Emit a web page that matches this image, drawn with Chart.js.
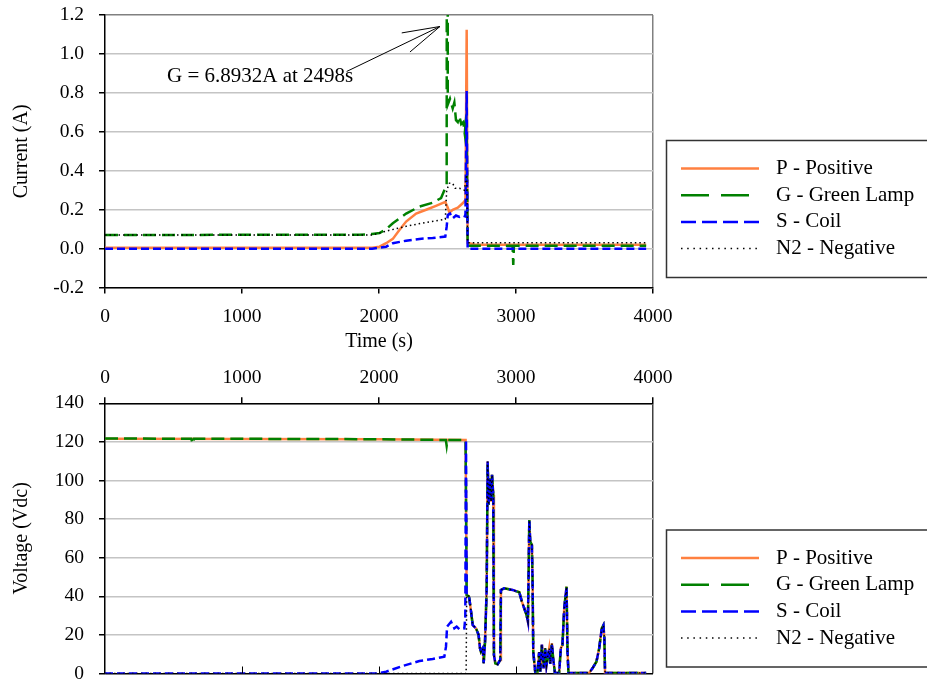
<!DOCTYPE html>
<html>
<head>
<meta charset="utf-8">
<title>Current and Voltage vs Time</title>
<script src="https://cdn.jsdelivr.net/npm/chart.js@4.4.1/dist/chart.umd.min.js"></script>
<style>
  body { margin: 0; background: #fff; }
  canvas { display: block; }
</style>
</head>
<body>
<canvas id="current-chart" width="927" height="360"></canvas>
<canvas id="voltage-chart" width="927" height="325"></canvas>
<script>
// series names and tick values
const seriesNames = ['P - Positive', 'G - Green Lamp', 'S - Coil', 'N2 - Negative'];
const timeTicks = [0, 1000, 2000, 3000, 4000];
const currentTicks = [-0.2, 0, 0.2, 0.4, 0.6, 0.8, 1.0, 1.2];
const voltageTicks = [0, 20, 40, 60, 80, 100, 120, 140];
const annotationText = 'G = 6.8932A at 2498s';

// current (A)
const pCurrentTime = [0, 1950, 2004, 2052, 2101, 2149, 2198, 2271, 2344, 2416, 2484, 2502, 2514, 2538, 2575, 2611, 2631, 2640, 2647, 2700, 3950];
const pCurrent     = [0.005, 0.005, 0.01, 0.028, 0.05, 0.096, 0.139, 0.18, 0.2, 0.22, 0.24, 0.21, 0.185, 0.2, 0.21, 0.233, 0.25, 1.124, 0.03, 0.02, 0.02];

const gCurrentTime = [0, 1858, 1950, 2004, 2052, 2101, 2198, 2295, 2392, 2453, 2477, 2494, 2498, 2502, 2518, 2538, 2550, 2562, 2575, 2587, 2600, 2615, 2626, 2632, 2640, 2647, 2975, 2980, 2985, 3950];
const gCurrent     = [0.07, 0.072, 0.075, 0.08, 0.1, 0.13, 0.18, 0.216, 0.236, 0.26, 0.3, 0.33, 6.8932, 0.74, 0.77, 0.72, 0.75, 0.66, 0.65, 0.68, 0.64, 0.65, 0.59, 0.64, 0.6, 0.015, 0.015, -0.084, 0.015, 0.015];

const sCurrentTime = [0, 1950, 2052, 2101, 2198, 2295, 2392, 2484, 2494, 2502, 2518, 2538, 2562, 2587, 2611, 2631, 2640, 2647, 3950];
const sCurrent     = [0, 0, 0.01, 0.028, 0.041, 0.05, 0.055, 0.062, 0.113, 0.173, 0.18, 0.156, 0.17, 0.163, 0.17, 0.165, 0.81, 0, 0];

const nCurrentTime = [0, 1950, 2052, 2198, 2344, 2484, 2494, 2514, 2538, 2556, 2587, 2623, 2640, 2647, 3950];
const nCurrent     = [0.07, 0.07, 0.09, 0.115, 0.135, 0.151, 0.3, 0.336, 0.335, 0.31, 0.31, 0.3, 0.38, 0.03, 0.03];

// voltage (Vdc) before the drop
const pVoltageTime = [0, 1000, 2000, 2632];
const pVoltage     = [121.6, 121.5, 121.4, 121];
const gVoltageTime = [0, 630, 640, 650, 1000, 2000, 2488, 2494, 2500, 2632];
const gVoltage     = [121.8, 121.6, 119, 121.6, 121.6, 121.4, 121, 118, 121, 121];
const sVoltageTime = [0, 1980, 2052, 2174, 2295, 2392, 2477, 2489, 2497, 2526, 2550, 2567, 2587, 2623, 2630, 2635];
const sVoltage     = [0, 0, 0.95, 3.9, 6.5, 7.5, 8.7, 13.9, 24.3, 26.8, 23.4, 24.3, 22.9, 23.4, 29.4, 121];
const nVoltageTime = [0, 2636];
const nVoltage     = [0, 0];

// voltage after the drop, shared by all four leads
const tailTime    = [2640, 2655, 2659, 2672, 2684, 2708, 2727, 2737, 2744, 2757, 2764, 2774, 2786, 2793, 2800, 2805, 2812, 2818, 2825, 2834, 2839, 2849, 2866, 2885, 2890, 2914, 2975, 3024, 3043, 3060, 3077, 3087, 3092, 3097, 3104, 3116, 3121, 3126, 3140, 3157, 3169, 3177, 3189, 3201, 3213, 3222, 3230, 3242, 3250, 3262, 3271, 3284, 3315, 3327, 3339, 3352, 3369, 3376, 3383, 3534, 3558, 3587, 3607, 3626, 3638, 3645, 3650, 3950];
const tailVoltage = [40.7, 40, 39, 32, 25.1, 23.4, 20, 13.1, 11.3, 13, 5.3, 16.5, 44, 109.8, 87.3, 95, 101.1, 89, 102.9, 92.5, 9.6, 5.3, 4.8, 7, 43.3, 44.1, 43.3, 42.1, 37.2, 33.8, 30.3, 26.9, 51, 79.5, 68.3, 66.6, 47.6, 11.3, 1, 1, 11, 1, 15, 2.7, 13, 4, 8, 13, 5, 15.6, 8, 0.3, 0.3, 13, 14.8, 33.8, 45, 11.3, 0.3, 0.3, 2.7, 6.1, 13, 23.4, 25, 18.2, 0.3, 0.3];

// 样式
const seriesStyles = [
    { color: '#ff8040', dash: [],        legendDash: [],         width: 2.5 },
    { color: '#008000', dash: [13, 6],   legendDash: [28, 12],   width: 2.5 },
    { color: '#0000ff', dash: [8, 4],    legendDash: [15, 6],    width: 2.5 },
    { color: '#000000', dash: [1.5, 3],  legendDash: [1.5, 4.7], width: 1.5 }
];

Chart.defaults.font.family = '"Liberation Serif", "Times New Roman", serif';
Chart.defaults.font.size = 19.5;
Chart.defaults.color = '#000';

function toPoints(times, values) {
    return times.map((t, i) => ({ x: t, y: values[i] }));
}

function makeDatasets(pointLists) {
    return pointLists.map((pts, i) => ({
        label: seriesNames[i],
        data: pts,
        borderColor: seriesStyles[i].color,
        borderDash: seriesStyles[i].dash,
        borderWidth: seriesStyles[i].width,
        pointRadius: 0,
        fill: false,
        tension: 0,
        order: 4 - i
    }));
}

// 图例框
function boxLegend(boxTop) {
    return {
        id: 'boxLegend',
        afterDraw(chart) {
            const ctx = chart.ctx;
            ctx.save();
            ctx.strokeStyle = '#333';
            ctx.lineWidth = 1.5;
            ctx.setLineDash([]);
            ctx.strokeRect(666.5, boxTop, 300, 137);
            ctx.font = '21px "Liberation Serif"';
            ctx.textBaseline = 'middle';
            ctx.textAlign = 'left';
            ctx.fillStyle = '#000';
            seriesNames.forEach((name, i) => {
                const y = boxTop + 28 + i * 26.7;
                const st = seriesStyles[i];
                ctx.beginPath();
                ctx.setLineDash(st.legendDash);
                ctx.strokeStyle = st.color;
                ctx.lineWidth = st.width;
                ctx.moveTo(681, y);
                ctx.lineTo(759, y);
                ctx.stroke();
                ctx.fillText(name, 776, y);
            });
            ctx.restore();
        }
    };
}

// 注释箭头
const annotationPlugin = {
    id: 'peakNote',
    afterDatasetsDraw(chart) {
        const ctx = chart.ctx;
        const px = t => chart.scales.x.getPixelForValue(t);
        const py = v => chart.scales.y.getPixelForValue(v);
        ctx.save();
        ctx.font = '21px "Liberation Serif"';
        ctx.textAlign = 'right';
        ctx.textBaseline = 'alphabetic';
        ctx.fillStyle = '#000';
        ctx.fillText(annotationText, px(1812), py(0.857));
        ctx.strokeStyle = '#000';
        ctx.lineWidth = 1;
        ctx.beginPath();
        ctx.moveTo(px(1764), py(0.91));
        ctx.lineTo(px(2445), py(1.141));
        ctx.lineTo(px(2166), py(1.108));
        ctx.moveTo(px(2445), py(1.141));
        ctx.lineTo(px(2226), py(1.01));
        ctx.stroke();
        ctx.restore();
    }
};

// 底部坐标轴的内向刻度
const innerTicksPlugin = {
    id: 'innerTicks',
    afterDraw(chart) {
        const ctx = chart.ctx;
        const y0 = chart.scales.y.getPixelForValue(0);
        ctx.save();
        ctx.strokeStyle = '#000';
        ctx.lineWidth = 1;
        timeTicks.slice(1, -1).forEach(t => {
            const x = Math.round(chart.scales.x.getPixelForValue(t)) + 0.5;
            ctx.beginPath();
            ctx.moveTo(x, y0);
            ctx.lineTo(x, y0 - 7);
            ctx.stroke();
        });
        ctx.restore();
    }
};

function fixedTicks(list) {
    return scale => { scale.ticks = list.map(v => ({ value: v })); };
}

// y轴固定宽度，不让刻度文字撑开绘图区
function fixedYAxis(scale) {
    scale.width = 105;
    scale.paddingTop = 0;
    scale.paddingBottom = 0;
}

// 电流图表
new Chart(document.getElementById('current-chart').getContext('2d'), {
    type: 'line',
    data: {
        datasets: makeDatasets([
            toPoints(pCurrentTime, pCurrent),
            toPoints(gCurrentTime, gCurrent),
            toPoints(sCurrentTime, sCurrent),
            toPoints(nCurrentTime, nCurrent)
        ])
    },
    options: {
        responsive: false,
        animation: false,
        layout: { padding: { top: 15, right: 274, left: 0, bottom: 0 } },
        plugins: { legend: { display: false }, tooltip: { enabled: false } },
        scales: {
            x: {
                type: 'linear',
                min: 0,
                max: 4000,
                afterBuildTicks: fixedTicks(timeTicks),
                afterFit: s => { s.height = 72.4; },
                ticks: { padding: 12, maxRotation: 0, callback: v => String(v) },
                grid: {
                    color: c => (c.tick && c.tick.value === 4000 ? '#808080' : 'rgba(0,0,0,0)'),
                    lineWidth: 1.5,
                    tickColor: '#000',
                    tickLength: 6
                },
                border: { color: '#000', width: 1.5 },
                title: { display: true, text: 'Time (s)', font: { size: 20 }, padding: { top: 0, bottom: 6 } }
            },
            y: {
                min: -0.2,
                max: 1.2,
                afterBuildTicks: fixedTicks(currentTicks),
                afterFit: fixedYAxis,
                ticks: { padding: 15, callback: v => v.toFixed(1) },
                grid: {
                    color: c => (c.tick && c.tick.value === 1.2 ? '#808080' : '#c4c4c4'),
                    lineWidth: 1.5,
                    tickColor: '#000',
                    tickLength: 6
                },
                border: { color: '#000', width: 1.5 },
                title: { display: true, text: 'Current (A)', font: { size: 20 }, padding: { top: 10, bottom: 0 } }
            }
        }
    },
    plugins: [annotationPlugin, boxLegend(140.5)]
});

// 电压图表
const withTail = (times, values) => toPoints(times.concat(tailTime), values.concat(tailVoltage));

new Chart(document.getElementById('voltage-chart').getContext('2d'), {
    type: 'line',
    data: {
        datasets: makeDatasets([
            withTail(pVoltageTime, pVoltage),
            withTail(gVoltageTime, gVoltage),
            withTail(sVoltageTime, sVoltage),
            withTail(nVoltageTime, nVoltage)
        ])
    },
    options: {
        responsive: false,
        animation: false,
        layout: { padding: { top: 0, right: 274, left: 0, bottom: 11.5 } },
        plugins: { legend: { display: false }, tooltip: { enabled: false } },
        scales: {
            x: {
                type: 'linear',
                position: 'top',
                min: 0,
                max: 4000,
                afterBuildTicks: fixedTicks(timeTicks),
                afterFit: s => { s.height = 43.3; },
                ticks: { padding: 8, maxRotation: 0, callback: v => String(v) },
                grid: {
                    color: c => (c.tick && c.tick.value === 4000 ? '#404040' : 'rgba(0,0,0,0)'),
                    lineWidth: 1.5,
                    tickColor: '#000',
                    tickLength: 6
                },
                border: { color: '#000', width: 1.5 }
            },
            y: {
                min: 0,
                max: 140,
                afterBuildTicks: fixedTicks(voltageTicks),
                afterFit: fixedYAxis,
                ticks: { padding: 15 },
                grid: {
                    color: c => (c.tick && c.tick.value === 0 ? '#000' : '#c4c4c4'),
                    lineWidth: 1.5,
                    tickColor: '#000',
                    tickLength: 6
                },
                border: { color: '#000', width: 1.5 },
                title: { display: true, text: 'Voltage (Vdc)', font: { size: 20 }, padding: { top: 10, bottom: 0 } }
            }
        }
    },
    plugins: [innerTicksPlugin, boxLegend(170)]
});
</script>
</body>
</html>
